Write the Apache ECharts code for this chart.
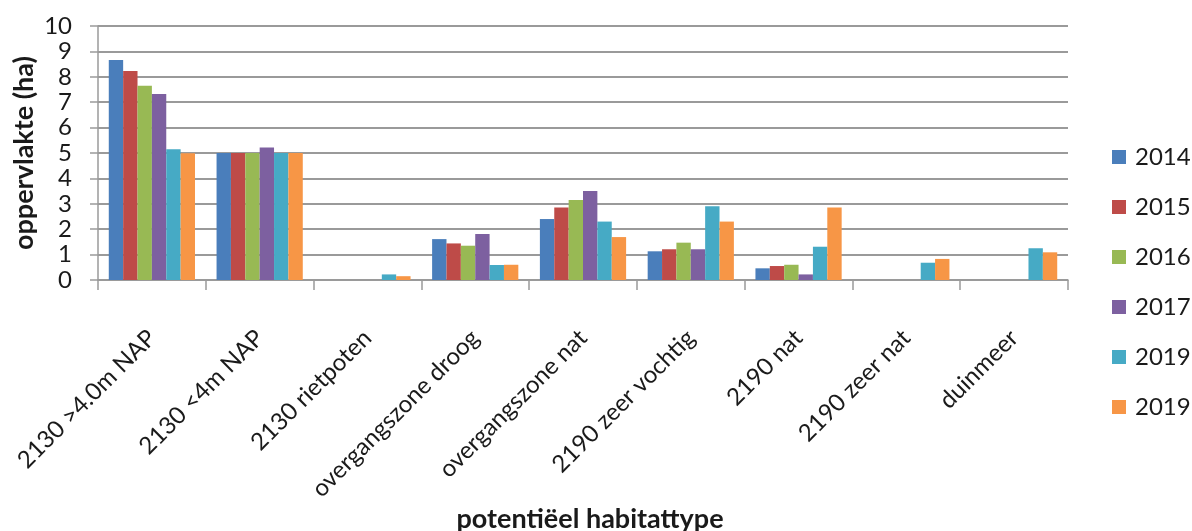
<!DOCTYPE html>
<html>
<head>
<meta charset="utf-8">
<title>Oppervlakte potentiële habitattypen</title>
<script src="https://cdn.jsdelivr.net/npm/echarts@6/dist/echarts.min.js"></script>
<style>
  html, body { margin: 0; padding: 0; background: #ffffff; }
  #chart { width: 1192px; height: 531px; }
</style>
</head>
<body>
<div id="chart"></div>
<script>
// Habitat types on the category axis
const categories = [
  '2130 >4.0m NAP',
  '2130 <4m NAP',
  '2130 rietpoten',
  'overgangszone droog',
  'overgangszone nat',
  '2190 zeer vochtig',
  '2190 nat',
  '2190 zeer nat',
  'duinmeer'
];

// Area (ha) per habitat type, one array per survey year
const v2014  = [8.66, 5.00, 0,    1.61, 2.40, 1.13, 0.46, 0,    0];
const v2015  = [8.23, 5.00, 0,    1.44, 2.85, 1.21, 0.55, 0,    0];
const v2016  = [7.65, 5.00, 0,    1.35, 3.15, 1.47, 0.60, 0,    0];
const v2017  = [7.32, 5.22, 0,    1.81, 3.50, 1.21, 0.22, 0,    0];
const v2019a = [5.15, 5.00, 0.22, 0.59, 2.30, 2.90, 1.31, 0.68, 1.25];
const v2019b = [4.99, 5.00, 0.15, 0.60, 1.69, 2.30, 2.85, 0.83, 1.09];

// Series keys and the year printed in the legend for each
const seriesKeys = ['2014', '2015', '2016', '2017', '2019 (a)', '2019 (b)'];
const seriesLabels = ['2014', '2015', '2016', '2017', '2019', '2019'];
const seriesValues = [v2014, v2015, v2016, v2017, v2019a, v2019b];
const seriesColors = ['#4a7ebb', '#be4b48', '#98b954', '#7d60a0', '#46aac5', '#f79646'];

// Value axis ticks
const yMin = 0, yMax = 10, yStep = 1;

const FONT = 'Lato, "Open Sans", sans-serif';
const TEXT = '#1a1a1a';
const GRID_GREY = '#9a9a9a';

const chart = echarts.init(document.getElementById('chart'), null, { renderer: 'canvas' });

chart.setOption({
  animation: false,
  backgroundColor: '#ffffff',
  textStyle: { fontFamily: FONT, color: TEXT },
  grid: {
    left: 98, right: 124, top: 26, bottom: 251,
    containLabel: false,
    outerBoundsMode: 'none'
  },
  legend: {
    orient: 'vertical',
    left: 1112,
    top: 145,
    padding: 0,
    icon: 'rect',
    itemWidth: 14,
    itemHeight: 14,
    itemGap: 26,
    data: seriesKeys,
    formatter: name => seriesLabels[seriesKeys.indexOf(name)],
    textStyle: { fontFamily: FONT, fontSize: 24, color: TEXT, lineHeight: 24, padding: [0, 0, 0, 4] }
  },
  xAxis: {
    type: 'category',
    data: categories,
    name: 'potentiëel habitattype',
    nameLocation: 'middle',
    nameGap: 226,
    nameMoveOverlap: false,
    nameTextStyle: { fontFamily: FONT, fontSize: 27, fontWeight: 'bold', color: TEXT, padding: [0, 0, 0, 14] },
    axisLine: { show: true, lineStyle: { color: GRID_GREY, width: 1.5 } },
    axisTick: { show: true, length: 10, lineStyle: { color: GRID_GREY, width: 1.5 } },
    axisLabel: {
      rotate: 45,
      margin: 54,
      interval: 0,
      fontFamily: FONT,
      fontSize: 24,
      color: TEXT
    },
    splitLine: { show: false }
  },
  yAxis: {
    type: 'value',
    min: yMin,
    max: yMax,
    interval: yStep,
    name: 'oppervlakte (ha)',
    nameLocation: 'middle',
    nameGap: 60,
    nameMoveOverlap: false,
    nameTextStyle: { fontFamily: FONT, fontSize: 27, fontWeight: 'bold', color: TEXT },
    axisLine: { show: true, lineStyle: { color: GRID_GREY, width: 1.5 } },
    axisTick: { show: true, length: 8, lineStyle: { color: GRID_GREY, width: 1.5 } },
    axisLabel: { margin: 26, fontFamily: FONT, fontSize: 24, color: TEXT },
    splitLine: { show: true, lineStyle: { color: GRID_GREY, width: 1.8 } }
  },
  series: seriesKeys.map((key, i) => ({
    name: key,
    type: 'bar',
    data: seriesValues[i],
    barGap: '0%',
    barCategoryGap: '20%',
    itemStyle: { color: seriesColors[i] }
  }))
});
</script>
</body>
</html>
